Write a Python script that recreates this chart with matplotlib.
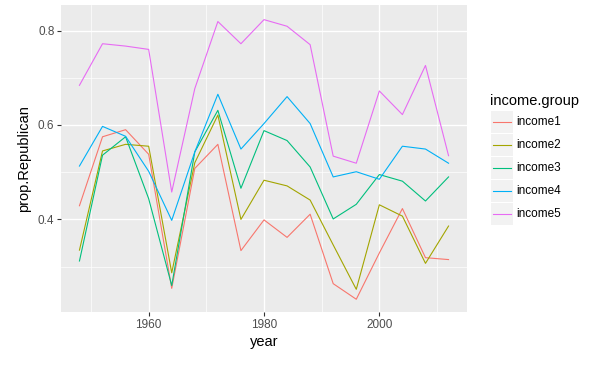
import matplotlib
matplotlib.use("Agg")
import matplotlib.pyplot as plt
from matplotlib.patches import Rectangle
from matplotlib.lines import Line2D

plt.rcParams['font.family'] = ['Liberation Sans', 'DejaVu Sans']

years = [1948, 1952, 1956, 1960, 1964, 1968, 1972, 1976, 1980, 1984,
         1988, 1992, 1996, 2000, 2004, 2008, 2012]
income1 = [0.429, 0.575, 0.590, 0.538, 0.254, 0.508, 0.559, 0.334, 0.399, 0.362,
           0.411, 0.264, 0.231, 0.329, 0.423, 0.319, 0.315]
income2 = [0.335, 0.545, 0.559, 0.555, 0.287, 0.520, 0.621, 0.400, 0.483, 0.471,
           0.441, 0.346, 0.252, 0.431, 0.407, 0.307, 0.386]
income3 = [0.312, 0.536, 0.575, 0.444, 0.260, 0.543, 0.631, 0.466, 0.588, 0.567,
           0.511, 0.401, 0.432, 0.495, 0.481, 0.439, 0.490]
income4 = [0.513, 0.597, 0.576, 0.502, 0.398, 0.543, 0.665, 0.549, 0.603, 0.660,
           0.603, 0.490, 0.501, 0.485, 0.555, 0.549, 0.519]
income5 = [0.684, 0.772, 0.767, 0.760, 0.458, 0.677, 0.819, 0.772, 0.823, 0.809,
           0.770, 0.534, 0.519, 0.672, 0.622, 0.726, 0.535]
groups = ['income1', 'income2', 'income3', 'income4', 'income5']
series = [income1, income2, income3, income4, income5]
colors = ['#F8766D', '#A3A500', '#00BF7D', '#00B0F6', '#E76BF3']

W, H = 589, 366
fig = plt.figure(figsize=(W / 100, H / 100), dpi=100)
fig.patch.set_facecolor('white')
ax = fig.add_axes([61 / W, 1 - 312 / H, (467 - 61) / W, (312 - 5) / H])
ax.set_facecolor('#EBEBEB')

for vals, c in zip(series, colors):
    ax.plot(years, vals, color=c, lw=0.8, zorder=3)

ax.set_xlim(1944.8, 2015.2)
ax.set_ylim(0.204, 0.854)
ax.set_xticks([1960, 1980, 2000])
ax.set_xticks([1950, 1970, 1990, 2010], minor=True)
ax.set_yticks([0.4, 0.6, 0.8])
ax.set_yticks([0.3, 0.5, 0.7], minor=True)
ax.set_yticklabels(['0.4', '0.6', '0.8'])
ax.grid(which='major', color='white', lw=1.0, zorder=1)
ax.grid(which='minor', color='white', lw=0.5, zorder=1)
ax.set_axisbelow(True)
for s in ax.spines.values():
    s.set_visible(False)
ax.tick_params(which='major', length=2.7, width=0.8, color='#333333',
               labelcolor='#4D4D4D', labelsize=8.5, pad=2)
ax.tick_params(which='minor', length=0)
ax.set_xlabel('year', fontsize=10.5, color='black', labelpad=3)
ax.set_ylabel('prop.Republican', fontsize=10.5, color='black', labelpad=5)

# legend drawn manually
fig.text(490 / W, 1 - 101 / H, 'income.group', fontsize=10.5, va='center', ha='left')
key_top = 110.7
key_h = 23.0
for i, (g, c) in enumerate(zip(groups, colors)):
    y0 = key_top + i * key_h
    fig.add_artist(Rectangle((491 / W, 1 - (y0 + key_h - 0.5) / H), 22 / W, (key_h - 1) / H,
                             transform=fig.transFigure, facecolor='#F2F2F2',
                             edgecolor='none'))
    yc = 1 - (y0 + key_h / 2) / H
    fig.add_artist(Line2D([493 / W, 511 / W], [yc, yc], transform=fig.transFigure,
                          color=c, lw=0.8))
    fig.text(516 / W, yc, g, fontsize=8.5, va='center', ha='left')

fig.savefig('out.png', dpi=100)
